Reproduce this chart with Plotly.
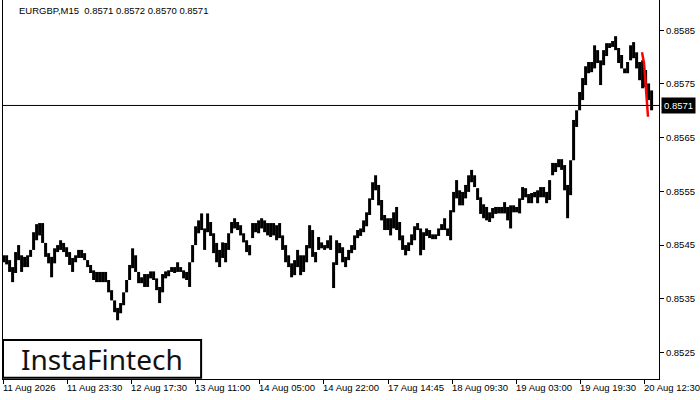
import plotly.graph_objects as go

# ---------------- data (EURGBP M15, sampled every 3rd bar) ----------------
bar_no = list(range(0, 649, 3))

bar_high = [
    0.85431, 0.85431, 0.85422, 0.85409, 0.85437, 0.85450, 0.85431, 0.85428, 0.85431, 0.85441,
    0.85474, 0.85489, 0.85491, 0.85491, 0.85454, 0.85435, 0.85428, 0.85444, 0.85450, 0.85459,
    0.85454, 0.85446, 0.85437, 0.85426, 0.85431, 0.85441, 0.85441, 0.85435, 0.85422, 0.85413,
    0.85403, 0.85400, 0.85400, 0.85400, 0.85400, 0.85385, 0.85366, 0.85347, 0.85333, 0.85342,
    0.85362, 0.85385, 0.85413, 0.85444, 0.85431, 0.85400, 0.85390, 0.85396, 0.85396, 0.85401,
    0.85401, 0.85388, 0.85372, 0.85396, 0.85401, 0.85403, 0.85409, 0.85409, 0.85418, 0.85409,
    0.85403, 0.85400, 0.85418, 0.85450, 0.85485, 0.85496, 0.85509, 0.85481, 0.85509, 0.85493,
    0.85472, 0.85454, 0.85441, 0.85455, 0.85454, 0.85472, 0.85493, 0.85500, 0.85493, 0.85487,
    0.85472, 0.85459, 0.85450, 0.85491, 0.85491, 0.85496, 0.85500, 0.85496, 0.85491, 0.85491,
    0.85491, 0.85487, 0.85491, 0.85468, 0.85450, 0.85431, 0.85416, 0.85422, 0.85441, 0.85431,
    0.85431, 0.85450, 0.85487, 0.85478, 0.85437, 0.85465, 0.85455, 0.85450, 0.85459, 0.85468,
    0.85418, 0.85459, 0.85454, 0.85446, 0.85428, 0.85441, 0.85450, 0.85468, 0.85478, 0.85481,
    0.85496, 0.85511, 0.85537, 0.85567, 0.85580, 0.85562, 0.85534, 0.85506, 0.85500, 0.85500,
    0.85511, 0.85521, 0.85493, 0.85468, 0.85450, 0.85455, 0.85470, 0.85485, 0.85491, 0.85481,
    0.85474, 0.85481, 0.85478, 0.85470, 0.85470, 0.85481, 0.85489, 0.85500, 0.85481, 0.85515,
    0.85549, 0.85571, 0.85552, 0.85549, 0.85562, 0.85580, 0.85590, 0.85580, 0.85556, 0.85539,
    0.85526, 0.85521, 0.85511, 0.85519, 0.85521, 0.85521, 0.85521, 0.85530, 0.85521, 0.85524,
    0.85524, 0.85521, 0.85537, 0.85558, 0.85556, 0.85545, 0.85547, 0.85549, 0.85552, 0.85558,
    0.85558, 0.85549, 0.85571, 0.85603, 0.85603, 0.85610, 0.85610, 0.85599, 0.85562, 0.85608,
    0.85683, 0.85701, 0.85735, 0.85761, 0.85783, 0.85791, 0.85791, 0.85822, 0.85813, 0.85794,
    0.85813, 0.85826, 0.85826, 0.85830, 0.85839, 0.85817, 0.85804, 0.85779, 0.85791, 0.85822,
    0.85828, 0.85809, 0.85791, 0.85794, 0.85776, 0.85751, 0.85738,
]

bar_low = [
    0.85418, 0.85414, 0.85400, 0.85381, 0.85398, 0.85422, 0.85400, 0.85409, 0.85409, 0.85428,
    0.85441, 0.85459, 0.85468, 0.85454, 0.85428, 0.85416, 0.85390, 0.85416, 0.85437, 0.85441,
    0.85437, 0.85428, 0.85413, 0.85400, 0.85418, 0.85426, 0.85426, 0.85422, 0.85409, 0.85398,
    0.85385, 0.85381, 0.85381, 0.85381, 0.85381, 0.85362, 0.85347, 0.85325, 0.85310, 0.85323,
    0.85338, 0.85362, 0.85385, 0.85407, 0.85400, 0.85379, 0.85379, 0.85372, 0.85372, 0.85388,
    0.85385, 0.85366, 0.85342, 0.85362, 0.85388, 0.85392, 0.85400, 0.85398, 0.85400, 0.85400,
    0.85388, 0.85385, 0.85372, 0.85418, 0.85450, 0.85472, 0.85478, 0.85441, 0.85474, 0.85467,
    0.85435, 0.85418, 0.85409, 0.85426, 0.85418, 0.85441, 0.85472, 0.85481, 0.85478, 0.85468,
    0.85455, 0.85437, 0.85431, 0.85463, 0.85474, 0.85472, 0.85481, 0.85474, 0.85468, 0.85465,
    0.85468, 0.85459, 0.85463, 0.85441, 0.85418, 0.85409, 0.85390, 0.85394, 0.85409, 0.85394,
    0.85400, 0.85418, 0.85444, 0.85428, 0.85418, 0.85441, 0.85444, 0.85441, 0.85444, 0.85441,
    0.85370, 0.85413, 0.85435, 0.85418, 0.85409, 0.85422, 0.85435, 0.85441, 0.85463, 0.85467,
    0.85474, 0.85485, 0.85506, 0.85534, 0.85552, 0.85524, 0.85496, 0.85478, 0.85478, 0.85468,
    0.85481, 0.85478, 0.85459, 0.85441, 0.85431, 0.85439, 0.85450, 0.85459, 0.85478, 0.85431,
    0.85441, 0.85467, 0.85463, 0.85461, 0.85461, 0.85467, 0.85478, 0.85478, 0.85467, 0.85459,
    0.85511, 0.85537, 0.85524, 0.85524, 0.85537, 0.85549, 0.85567, 0.85558, 0.85534, 0.85508,
    0.85500, 0.85496, 0.85493, 0.85500, 0.85508, 0.85509, 0.85509, 0.85509, 0.85496, 0.85481,
    0.85511, 0.85511, 0.85509, 0.85534, 0.85539, 0.85528, 0.85528, 0.85539, 0.85528, 0.85539,
    0.85539, 0.85528, 0.85534, 0.85580, 0.85586, 0.85595, 0.85590, 0.85552, 0.85500, 0.85543,
    0.85608, 0.85670, 0.85701, 0.85720, 0.85748, 0.85770, 0.85772, 0.85779, 0.85789, 0.85748,
    0.85785, 0.85802, 0.85817, 0.85819, 0.85813, 0.85789, 0.85779, 0.85770, 0.85770, 0.85794,
    0.85798, 0.85779, 0.85757, 0.85742, 0.85744, 0.85720, 0.85701,
]

# pattern line (red) drawn over the last bars
pattern_bar = [638.4, 640.4, 642.1, 643.7, 644.4]
pattern_price = [0.85809, 0.85789, 0.85748, 0.85714, 0.85689]

last_price = 0.8571
header_text = "EURGBP,M15  0.8571 0.8572 0.8570 0.8571"

tick_bars = [0, 64, 128, 192, 256, 320, 385, 449, 513, 577, 641]
tick_labels = ["11 Aug 2026", "11 Aug 23:30", "12 Aug 17:30", "13 Aug 11:00",
               "14 Aug 05:00", "14 Aug 22:00", "17 Aug 14:45", "18 Aug 09:30",
               "19 Aug 03:00", "19 Aug 19:30", "20 Aug 12:30"]
price_ticks = [0.8525, 0.8535, 0.8545, 0.8555, 0.8565, 0.8575, 0.8585]

assert len(bar_no) == len(bar_high) == len(bar_low)

# ---------------- figure ----------------
xs, ys = [], []
for n, h, l in zip(bar_no, bar_high, bar_low):
    xs += [n, n, None]
    ys += [l, h, None]

FONT = "Liberation Sans, Arial, sans-serif"

fig = go.Figure()
fig.add_trace(go.Scatter(x=xs, y=ys, mode="lines",
                         line=dict(color="black", width=3),
                         hoverinfo="skip", showlegend=False))
fig.add_trace(go.Scatter(x=pattern_bar, y=pattern_price, mode="lines",
                         line=dict(color="#ff0000", width=2.5),
                         hoverinfo="skip", showlegend=False))

# current price line
fig.add_shape(type="line", xref="paper", x0=0, x1=1, yref="y",
              y0=last_price, y1=last_price, line=dict(color="black", width=1))

# logo box
fig.add_shape(type="rect", xref="paper", yref="paper", x0=0.0, x1=0.302,
              y0=0.003, y1=0.103, line=dict(color="black", width=2),
              fillcolor="white", layer="above")
fig.add_annotation(xref="paper", yref="paper", x=0.151, y=0.053,
                   text="InstaFintech", showarrow=False,
                   font=dict(family="Noto Sans, sans-serif", size=28, color="#111111"),
                   xanchor="center", yanchor="middle")

# header
fig.add_annotation(xref="paper", yref="paper", x=0.022, y=0.999,
                   text=header_text, showarrow=False, yshift=-3,
                   font=dict(family=FONT, size=9.5, color="black"),
                   xanchor="left", yanchor="top")

# price label box
fig.add_annotation(xref="paper", yref="y", x=1, y=last_price,
                   text=f"{last_price:.4f}", showarrow=False,
                   font=dict(family=FONT, size=9.5, color="white"),
                   bgcolor="black", xanchor="left", yanchor="middle",
                   xshift=2, borderpad=2)

# x tick labels (left-aligned at each tick)
for tb, tl in zip(tick_bars, tick_labels):
    fig.add_annotation(xref="x", yref="paper", x=tb, y=0, text=tl,
                       showarrow=False, xanchor="left", yanchor="top",
                       xshift=-3, yshift=-1,
                       font=dict(family=FONT, size=9.5, color="black"))

fig.update_layout(
    width=700, height=400,
    margin=dict(l=3, r=41, t=0, b=21),
    paper_bgcolor="white", plot_bgcolor="white",
    showlegend=False,
    xaxis=dict(range=[-0.6, 655.4], showgrid=False, zeroline=False,
               showline=True, linecolor="black", linewidth=1,
               tickmode="array", tickvals=tick_bars, ticks="outside",
               ticklen=4, tickcolor="black", showticklabels=False,
               automargin=False),
    yaxis=dict(range=[0.852006, 0.859064], side="right", showgrid=False,
               zeroline=False, showline=True, mirror=True, linecolor="black",
               linewidth=1, tickmode="array", tickvals=price_ticks,
               ticktext=[f"{v:.4f}" for v in price_ticks],
               ticks="outside", ticklen=4, tickcolor="black", automargin=False,
               tickfont=dict(family=FONT, size=9.5, color="black")),
)

fig.write_html("out.html", config={"displayModeBar": False},
               post_script="document.body.style.margin='0';document.body.style.overflow='hidden';")
